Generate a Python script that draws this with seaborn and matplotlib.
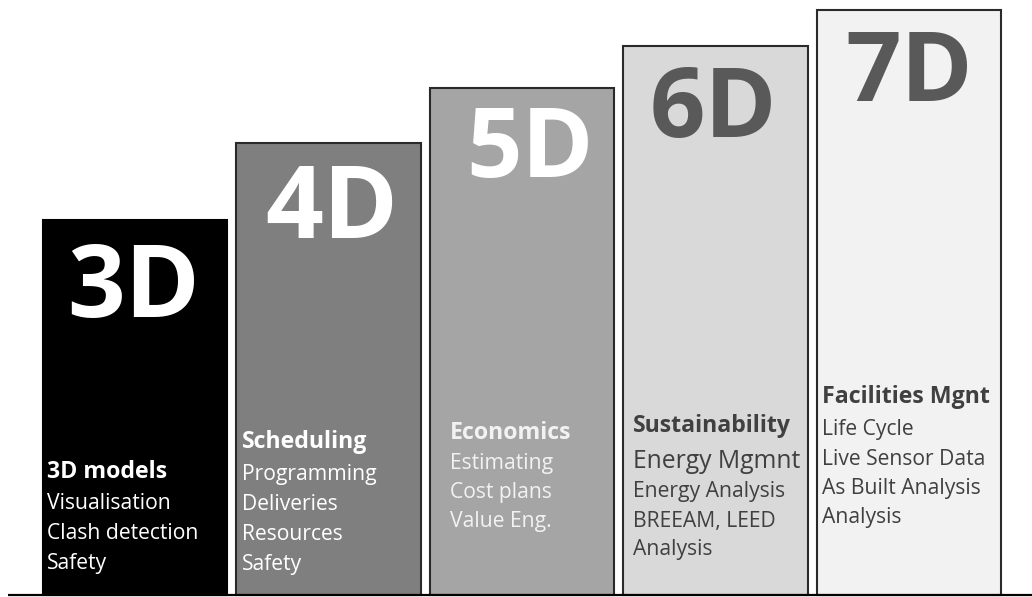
import matplotlib
matplotlib.use("Agg")
import matplotlib.pyplot as plt
import seaborn as sns
import numpy as np

# ---- data ----
categories = ["3D", "4D", "5D", "6D", "7D"]
heights = [375, 452, 507, 549, 585]
bar_colors = ["#000000", "#7f7f7f", "#a5a5a5", "#d9d9d9", "#f2f2f2"]
label_colors = ["#ffffff", "#ffffff", "#ffffff", "#595959", "#595959"]
titles = ["3D models", "Scheduling", "Economics", "Sustainability", "Facilities Mgnt"]
items = [
    ["Visualisation", "Clash detection", "Safety"],
    ["Programming", "Deliveries", "Resources", "Safety"],
    ["Estimating", "Cost plans", "Value Eng."],
    ["Energy Mgmnt", "Energy Analysis", "BREEAM, LEED", "Analysis"],
    ["Life Cycle", "Live Sensor Data", "As Built Analysis", "Analysis"],
]
text_colors = ["#ffffff", "#ffffff", "#f2f2f2", "#404040", "#404040"]

sns.set_theme(style="white")
plt.rcParams["font.family"] = ["Open Sans", "DejaVu Sans"]

W, H = 1032, 597
fig = plt.figure(figsize=(W / 100, H / 100), dpi=100)
ax = fig.add_axes([0, 0, 1, 1])

sns.barplot(x=categories, y=heights, hue=categories, palette=bar_colors,
            width=0.956, ax=ax, legend=False, saturation=1,
            edgecolor="#2a2a2a", linewidth=1.5)
ax.patches[0].set_edgecolor("#000000")

# pixel -> data mappings
spacing = 193.5
c0 = 135.0
ax.set_xlim(-c0 / spacing, (W - c0) / spacing)
ax.set_ylim(-2, H - 2)
ax.axis("off")

def px_x(p):
    return (p - c0) / spacing

def px_y(p):
    return (H - 2) - p

# baseline
ax.plot([px_x(8), px_x(W)], [px_y(595), px_y(595)], color="black", lw=1.6,
        solid_capstyle="butt", zorder=5)

# big labels
big_cx = [134, 332, 530, 713, 909]
big_base = [317, 238, 177, 137, 101]
big_fs = [73, 73, 70, 70, 70]
for i, lab in enumerate(categories):
    ax.text(px_x(big_cx[i]), px_y(big_base[i]), lab, ha="center", va="baseline",
            fontsize=big_fs[i], fontweight="bold", color=label_colors[i])

# bottom texts
left_px = [47, 242, 450, 633, 822]
title_base = [478, 448, 439, 432, 403]
line_bases = [
    [509, 539, 569],
    [480, 510, 540, 570],
    [469, 498, 527],
    [468, 497, 527, 555],
    [435, 465, 494, 523],
]
for i in range(5):
    ax.text(px_x(left_px[i]), px_y(title_base[i]), titles[i], ha="left",
            va="baseline", fontsize=16.7, fontweight="bold", color=text_colors[i])
    for j, it in enumerate(items[i]):
        fs = 17.8 if (i == 3 and j == 0) else 15.2
        ax.text(px_x(left_px[i]), px_y(line_bases[i][j]), it, ha="left",
                va="baseline", fontsize=fs, color=text_colors[i])

fig.savefig("out.png", dpi=100)
